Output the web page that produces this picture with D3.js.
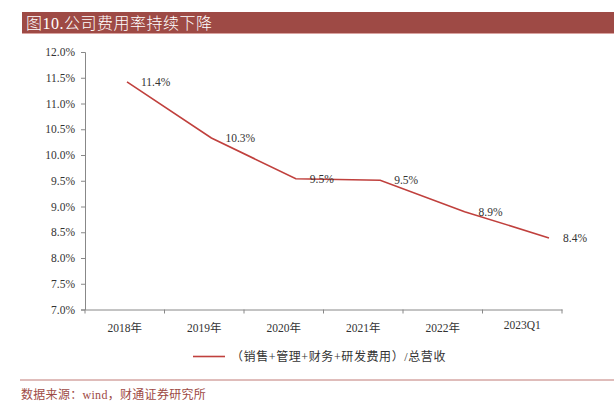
<!DOCTYPE html>
<html>
<head>
<meta charset="utf-8">
<script src="https://cdn.jsdelivr.net/npm/d3@7"></script>
<style>
  body { margin: 0; background: #fff; }
  svg text { font-family: "Liberation Serif", "Noto Sans CJK SC", serif; }
</style>
</head>
<body>
<div id="chart"></div>
<script>
const width = 614;
const height = 408;

const categories = ['2018年', '2019年', '2020年', '2021年', '2022年', '2023Q1'];
const values = [11.42, 10.33, 9.54, 9.51, 8.90, 8.39];
const valueLabels = ['11.4%', '10.3%', '9.5%', '9.5%', '8.9%', '8.4%'];
const yTicks = [7.0, 7.5, 8.0, 8.5, 9.0, 9.5, 10.0, 10.5, 11.0, 11.5, 12.0];
const seriesName = '（销售+管理+财务+研发费用）/总营收';

const red = '#c0403d';

const svg = d3.select('#chart').append('svg')
  .attr('width', width)
  .attr('height', height);

// title bar
svg.append('rect')
  .attr('x', 22).attr('y', 12)
  .attr('width', width - 22).attr('height', 21)
  .attr('fill', '#9e4a45');
svg.append('line')
  .attr('x1', 22).attr('x2', width)
  .attr('y1', 33.5).attr('y2', 33.5)
  .attr('stroke', '#d9a3a0');
svg.append('text')
  .attr('x', 26).attr('y', 29)
  .attr('fill', '#fff')
  .attr('font-size', 16)
  .attr('font-weight', 300)
  .attr('letter-spacing', 0.5)
  .text('图10.公司费用率持续下降');

const y = d3.scaleLinear().domain([7, 12]).range([309.5, 52]);
const xBand = d3.scaleBand().domain(categories).range([85, 562]);
// the line points sit a little off the band centres in the original
const xLine = d3.scalePoint().domain(categories).range([127, 549]);

// y axis
const yAxis = svg.append('g')
  .attr('transform', 'translate(85,0)')
  .call(d3.axisLeft(y).tickValues(yTicks).tickSize(4).tickPadding(6)
    .tickFormat(d => d.toFixed(1) + '%'));
yAxis.selectAll('text').attr('font-size', 11.5).attr('fill', '#333');

// x axis
const xAxis = svg.append('g')
  .attr('transform', 'translate(0,309.5)')
  .call(d3.axisBottom(xBand).tickSize(0).tickPadding(14));
xAxis.selectAll('text').attr('font-size', 11.5).attr('fill', '#333');
xAxis.selectAll('text').filter(d => d === '2023Q1').attr('dy', '0.45em');
// boundary ticks
xAxis.selectAll('.bound')
  .data(categories.concat(null))
  .join('line')
  .attr('class', 'bound')
  .attr('x1', (d, i) => xBand.range()[0] + i * xBand.step())
  .attr('x2', (d, i) => xBand.range()[0] + i * xBand.step())
  .attr('y1', 0).attr('y2', 4)
  .attr('stroke', '#888');

svg.selectAll('.domain, .tick line').attr('stroke', '#888');

// line
const line = d3.line()
  .x((d, i) => xLine(categories[i]))
  .y(d => y(d));

svg.append('path')
  .datum(values)
  .attr('d', line)
  .attr('fill', 'none')
  .attr('stroke', red)
  .attr('stroke-width', 1.6);

svg.selectAll('.vlabel')
  .data(values)
  .join('text')
  .attr('class', 'vlabel')
  .attr('x', (d, i) => xLine(categories[i]) + 14)
  .attr('y', d => y(d))
  .attr('dy', '0.35em')
  .attr('font-size', 11.5)
  .attr('fill', '#333')
  .text((d, i) => valueLabels[i]);

// legend
svg.append('line')
  .attr('x1', 193).attr('x2', 225)
  .attr('y1', 356.5).attr('y2', 356.5)
  .attr('stroke', red).attr('stroke-width', 1.6);
svg.append('text')
  .attr('x', 231).attr('y', 357)
  .attr('dy', '0.35em')
  .attr('font-size', 12)
  .attr('letter-spacing', 0.6)
  .attr('fill', '#333')
  .text(seriesName);

// footer
svg.append('line')
  .attr('x1', 20).attr('x2', width)
  .attr('y1', 380).attr('y2', 380)
  .attr('stroke', '#c07a76');
svg.append('text')
  .attr('x', 21).attr('y', 399)
  .attr('font-size', 12)
  .attr('letter-spacing', 0.3)
  .attr('fill', '#9e4a45')
  .text('数据来源：wind，财通证券研究所');
</script>
</body>
</html>
